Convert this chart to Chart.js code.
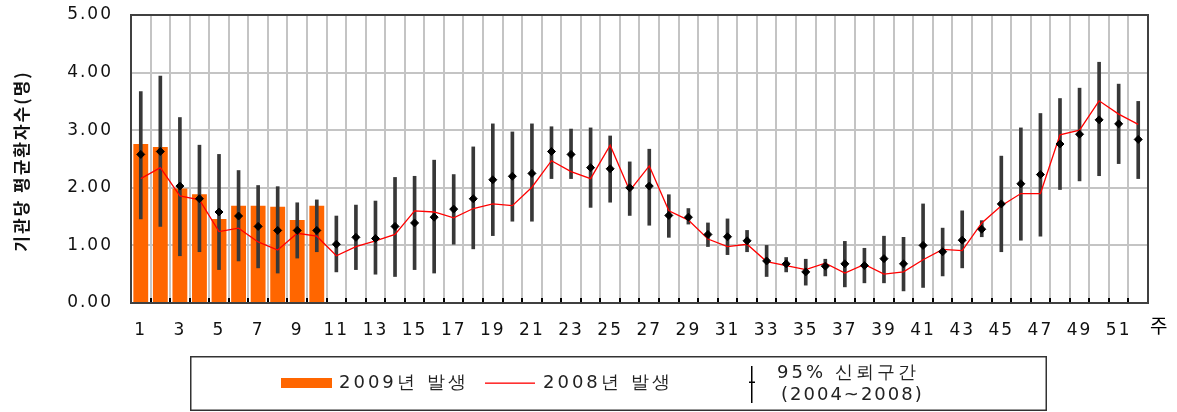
<!DOCTYPE html>
<html>
<head>
<meta charset="utf-8">
<script src="https://cdn.jsdelivr.net/npm/chart.js@4/dist/chart.umd.min.js"></script>
<style>
  html, body { margin: 0; padding: 0; background: #fff; overflow: hidden; }
  canvas { position: absolute; left: 0; top: 0; }
</style>
</head>
<body>
<canvas id="grafico" width="1177" height="412"></canvas>
<script>
// --- dados (leitura do gráfico) ---
const semanas = ['1','2','3','4','5','6','7','8','9','10','11','12','13','14','15','16','17','18','19','20',
  '21','22','23','24','25','26','27','28','29','30','31','32','33','34','35','36','37','38','39','40',
  '41','42','43','44','45','46','47','48','49','50','51','52'];

// 2009년 발생 (only weeks 1-10 reported)
const casos2009 = [2.76, 2.71, 1.99, 1.89, 1.46, 1.69, 1.69, 1.67, 1.44, 1.69];

// 2008년 발생
const casos2008 = [2.16, 2.35, 1.86, 1.79, 1.24, 1.30, 1.06, 0.92, 1.21, 1.16,
  0.82, 0.98, 1.08, 1.19, 1.60, 1.58, 1.48, 1.64, 1.72, 1.69,
  2.01, 2.47, 2.28, 2.16, 2.74, 1.95, 2.38, 1.60, 1.44, 1.11,
  0.98, 1.02, 0.72, 0.65, 0.58, 0.69, 0.52, 0.67, 0.50, 0.54,
  0.75, 0.93, 0.91, 1.39, 1.69, 1.90, 1.90, 2.92, 3.00, 3.51,
  3.28, 3.10];

// 2004~2008 mean and 95% interval
const media = [2.58, 2.63, 2.03, 1.81, 1.58, 1.51, 1.33, 1.26, 1.26, 1.26,
  1.02, 1.14, 1.12, 1.33, 1.39, 1.49, 1.63, 1.81, 2.14, 2.20,
  2.25, 2.63, 2.58, 2.35, 2.33, 2.00, 2.03, 1.52, 1.49, 1.19,
  1.15, 1.08, 0.73, 0.68, 0.54, 0.64, 0.68, 0.65, 0.77, 0.68,
  1.00, 0.89, 1.09, 1.28, 1.72, 2.07, 2.23, 2.76, 2.93, 3.18,
  3.11, 2.84];
const limiteInf = [1.46, 1.33, 0.82, 0.89, 0.58, 0.73, 0.61, 0.52, 0.78, 0.89,
  0.54, 0.58, 0.50, 0.46, 0.58, 0.52, 1.02, 0.94, 1.17, 1.42,
  1.42, 2.16, 2.16, 1.66, 1.75, 1.52, 1.35, 1.14, 1.37, 0.98,
  0.84, 0.89, 0.46, 0.54, 0.31, 0.47, 0.28, 0.35, 0.35, 0.21,
  0.27, 0.47, 0.61, 1.15, 0.89, 1.09, 1.16, 1.97, 2.12, 2.21,
  2.42, 2.16];
const limiteSup = [3.67, 3.94, 3.22, 2.74, 2.58, 2.30, 2.04, 2.02, 1.74, 1.79,
  1.51, 1.70, 1.77, 2.18, 2.20, 2.48, 2.23, 2.71, 3.11, 2.97,
  3.11, 3.06, 3.02, 3.04, 2.90, 2.45, 2.67, 1.88, 1.64, 1.39,
  1.46, 1.26, 1.00, 0.79, 0.76, 0.76, 1.07, 0.95, 1.16, 1.14,
  1.72, 1.30, 1.60, 1.43, 2.55, 3.04, 3.29, 3.55, 3.73, 4.18,
  3.80, 3.50];

const yMin = 0, yMax = 5, yPasso = 1;

// --- montagem ---
const intervalo = limiteInf.map((lo, i) => [lo, limiteSup[i]]);
const fonteNum = 'DejaVu Sans';
const fonteKr = '"Noto Sans CJK KR", "DejaVu Sans", sans-serif';

// linhas desenhadas como retângulos cheios (traços verticais não apareciam)
const moldura = {
  id: 'moldura',
  beforeDraw(chart) {
    chart.ctx.letterSpacing = '2px';
  },
  beforeDatasetsDraw(chart) {
    const ctx = chart.ctx, x = chart.scales.x, y = chart.scales.y;
    const passo = (x.right - x.left) / semanas.length;
    ctx.save();
    ctx.fillStyle = '#c4c4c4';
    for (let i = 1; i < semanas.length; i++) {
      const px = Math.round(x.getPixelForValue(i) - passo / 2);
      ctx.fillRect(px - 1, y.top, 2, y.bottom - y.top);
    }
    ctx.restore();
  },
  afterDraw(chart) {
    const ctx = chart.ctx, x = chart.scales.x, y = chart.scales.y;
    const passo = (x.right - x.left) / semanas.length;
    const l = Math.round(x.left), r = Math.round(x.right);
    const t = Math.round(y.top), b = Math.round(y.bottom);
    ctx.save();
    // marcas pequenas no eixo x
    ctx.fillStyle = '#000';
    for (let i = 1; i < semanas.length; i++) {
      const px = Math.round(x.getPixelForValue(i) - passo / 2);
      ctx.fillRect(px - 1, b - 5, 2, 5);
    }
    // caixa do gráfico
    ctx.fillStyle = '#404040';
    ctx.fillRect(l - 1, t - 1, r - l + 2, 2);
    ctx.fillRect(l - 1, b - 1, r - l + 2, 2);
    ctx.fillRect(l - 1, t - 1, 2, b - t + 2);
    ctx.fillRect(r - 1, t - 1, 2, b - t + 2);

    // legenda
    ctx.fillStyle = '#333';
    ctx.fillRect(190, 356, 857, 1.5);
    ctx.fillRect(190, 409.5, 857, 1.5);
    ctx.fillRect(190, 356, 1.5, 55);
    ctx.fillRect(1045.5, 356, 1.5, 55);
    ctx.fillStyle = '#ff6600';
    ctx.fillRect(281, 378, 51, 10);
    ctx.fillStyle = '#ff0000';
    ctx.fillRect(485, 382.5, 50, 1.3);
    ctx.fillStyle = '#000';
    ctx.fillRect(751, 366, 1.5, 37);
    ctx.fillRect(749, 381.5, 6, 1.5);

    ctx.fillStyle = '#222';
    ctx.textAlign = 'left';
    ctx.textBaseline = 'middle';
    ctx.font = '18px ' + fonteNum;
    ctx.letterSpacing = '3px';
    ctx.fillText('2009년 발생', 339, 383);
    ctx.fillText('2008년 발생', 543, 383);
    ctx.fillText('95% 신뢰구간', 777, 373);
    ctx.letterSpacing = '2px';
    ctx.fillText('(2004~2008)', 781, 395);

    // "주"
    ctx.fillStyle = '#000';
    ctx.font = '19px ' + fonteKr;
    ctx.letterSpacing = '0px';
    ctx.textAlign = 'center';
    ctx.fillText('주', x.getPixelForValue(semanas.length - 1) + passo + 1, 326);

    // título do eixo y
    ctx.translate(22, (y.top + y.bottom) / 2 + 2);
    ctx.rotate(-Math.PI / 2);
    ctx.font = 'bold 17px ' + fonteKr;
    ctx.letterSpacing = '2px';
    ctx.fillStyle = '#111';
    ctx.fillText('기관당 평균환자수(명)', 0, 0);
    ctx.restore();
  }
};

new Chart(document.getElementById('grafico'), {
  type: 'bar',
  data: {
    labels: semanas,
    datasets: [
      { label: '95% 신뢰구간', data: intervalo, backgroundColor: '#383838', barThickness: 3, grouped: false, order: 3 },
      { label: '2009년 발생', data: casos2009, backgroundColor: '#ff6600', barPercentage: 0.76, categoryPercentage: 1, grouped: false, order: 4 },
      { type: 'line', label: '2008년 발생', data: casos2008, borderColor: '#ff0000', borderWidth: 1.3, pointRadius: 0, tension: 0, fill: false, order: 2 },
      { type: 'line', label: '평균', data: media, showLine: false, pointStyle: 'rectRot', pointRadius: 4,
        pointBackgroundColor: '#000', pointBorderColor: '#000', pointBorderWidth: 1, order: 1 }
    ]
  },
  options: {
    responsive: false,
    animation: false,
    devicePixelRatio: 1,
    layout: { padding: { top: 15, right: 29, bottom: 69, left: 0 } },
    plugins: { legend: { display: false }, tooltip: { enabled: false } },
    scales: {
      x: {
        grid: { display: false },
        border: { display: false },
        ticks: {
          autoSkip: false, maxRotation: 0, padding: 9, color: '#111',
          font: { family: fonteNum, size: 17 },
          callback: (v, i) => (i % 2 === 0 ? semanas[i] : '')
        },
        afterFit: (s) => { s.height = 40; }
      },
      y: {
        min: yMin,
        max: yMax,
        grid: { color: '#c4c4c4', lineWidth: 2, drawTicks: false },
        border: { display: false },
        ticks: {
          stepSize: yPasso, padding: 18, color: '#111',
          font: { family: fonteNum, size: 17 },
          callback: (v) => v.toFixed(2)
        },
        afterFit: (s) => { s.width = 131; s.paddingTop = 10; s.paddingBottom = 10; }
      }
    }
  },
  plugins: [moldura]
});
</script>
</body>
</html>
